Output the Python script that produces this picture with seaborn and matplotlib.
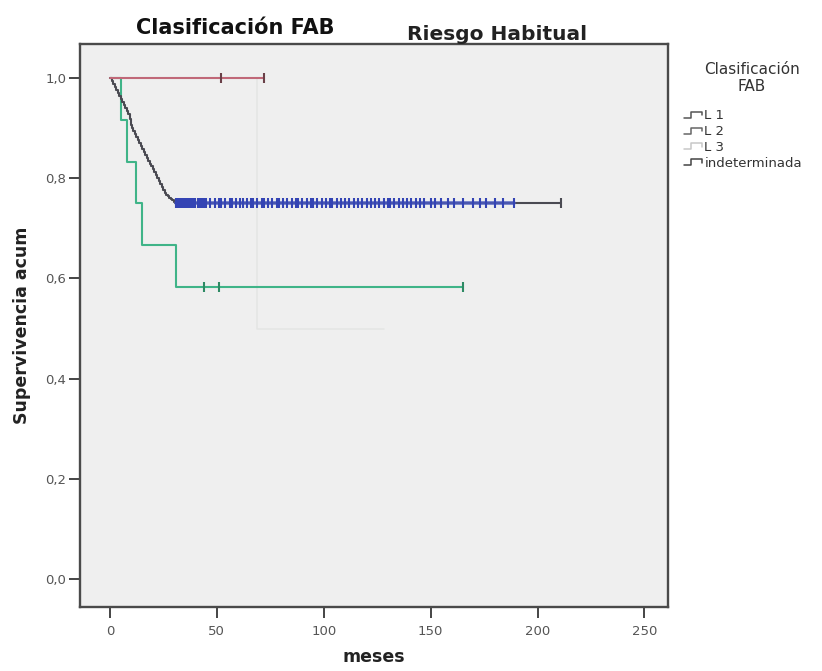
import matplotlib
matplotlib.use("Agg")
import matplotlib.pyplot as plt
from matplotlib.legend_handler import HandlerBase
from matplotlib.lines import Line2D
import seaborn as sns
import pandas as pd

# Kaplan-Meier step curves (time in months, cumulative survival)
l1_time = [0, 0.8, 1.5, 2.3, 3.0, 3.7, 4.4, 5.1, 5.8, 6.5, 7.2, 7.9, 8.5, 9.2,
           9.8, 10.4, 11.0, 11.7, 12.4, 13.1, 13.8, 14.5, 15.2, 15.9, 16.6,
           17.3, 18.0, 18.7, 19.4, 20.1, 20.8, 21.5, 22.2, 22.9, 23.6, 24.3,
           25.0, 25.7, 26.4, 27.1, 27.8, 28.5, 29.2, 29.9, 30.6, 211]
l1_surv = [1.0, 0.994, 0.988, 0.982, 0.976, 0.97, 0.965, 0.959, 0.953, 0.947,
           0.941, 0.935, 0.929, 0.918, 0.906, 0.9, 0.894, 0.888, 0.882, 0.876,
           0.871, 0.865, 0.859, 0.853, 0.847, 0.841, 0.835, 0.829, 0.824,
           0.818, 0.812, 0.806, 0.8, 0.794, 0.788, 0.782, 0.776, 0.771, 0.767,
           0.764, 0.761, 0.758, 0.756, 0.753, 0.75, 0.75]
l1_cens = [31, 31.5, 32, 32.5, 33, 33.5, 34, 34.5, 35, 35.5, 36, 36.5, 37, 37.5,
           38, 38.5, 39, 39.5, 40, 41, 42, 43, 44, 45, 47, 49, 51, 52, 54, 56,
           57, 59, 61, 62, 64, 66, 67, 69, 71, 72, 74, 76, 78, 79, 81, 83, 85,
           87, 88, 90, 92, 94, 95, 97, 99, 101, 103, 104, 106, 108, 110, 112,
           114, 116, 118, 120, 122, 124, 126, 128, 130, 131, 133, 135, 137,
           139, 141, 143, 145, 147, 150, 152, 155, 158, 161, 165, 170, 173,
           176, 180, 184, 189]
l1_cens_last = [211]

l2_time = [0, 5, 8, 12, 15, 31, 165]
l2_surv = [1.0, 0.917, 0.833, 0.75, 0.667, 0.583, 0.583]
l2_cens = [44, 51, 165]

l3_time = [0, 69, 128]
l3_surv = [1.0, 0.5, 0.5]

ind_time = [0, 72]
ind_surv = [1.0, 1.0]
ind_cens = [52, 72]

labels = ["L 1", "L 2", "L 3", "indeterminada"]
colors = {"L 1": "#4a4a52", "L 2": "#3fb488", "L 3": "#e4e5e4",
          "indeterminada": "#c06878"}
cens_colors = {"L 1": "#3444b4", "L 2": "#2e8a64", "indeterminada": "#6a4048"}

sns.set_theme(style="white")
plt.rcParams["font.family"] = ["DejaVu Sans"]

fig = plt.figure(figsize=(8.22, 6.71), dpi=100)
ax = fig.add_axes([80 / 822, 1 - 607 / 671, (668 - 80) / 822, (607 - 44) / 671])
ax.set_facecolor("#efefef")


def step_frame(t, s):
    return pd.DataFrame({"t": t, "s": s})


def surv_at(times, tt, ss):
    out = []
    for c in times:
        v = ss[0]
        for a, b in zip(tt, ss):
            if a <= c:
                v = b
        out.append(v)
    return out


curves = [("L 3", l3_time, l3_surv), ("L 2", l2_time, l2_surv),
          ("L 1", l1_time, l1_surv), ("indeterminada", ind_time, ind_surv)]
for name, tt, ss in curves:
    sns.lineplot(data=step_frame(tt, ss), x="t", y="s", ax=ax, estimator=None,
                 sort=False, drawstyle="steps-post", color=colors[name],
                 linewidth=1.5 if name != "L 3" else 1.1)

# the censored stretch of L 1 reads as a blue band
l1_band = [31, 189]
sns.lineplot(x=l1_band, y=surv_at(l1_band, l1_time, l1_surv), ax=ax,
             color="#4a5ac0", linewidth=2.6, alpha=0.85)

# censored observations
cens_sets = [("L 2", l2_cens, l2_time, l2_surv),
             ("L 1", l1_cens, l1_time, l1_surv),
             ("indeterminada", ind_cens, ind_time, ind_surv)]
for name, cc, tt, ss in cens_sets:
    sns.scatterplot(x=cc, y=surv_at(cc, tt, ss), ax=ax, marker="|",
                    s=45 if name == "L 1" else 55,
                    linewidth=1.5, color=cens_colors[name], zorder=5)
sns.scatterplot(x=l1_cens_last, y=surv_at(l1_cens_last, l1_time, l1_surv), ax=ax,
                marker="|", s=50, linewidth=1.5, color="#4a4a52", zorder=5)

ax.set_xlim(-14, 261)
ax.set_ylim(-0.056, 1.068)
ax.set_xticks([0, 50, 100, 150, 200, 250])
ax.set_yticks([0.0, 0.2, 0.4, 0.6, 0.8, 1.0])
ax.set_yticklabels(["0,0", "0,2", "0,4", "0,6", "0,8", "1,0"])
ax.tick_params(axis="both", direction="out", length=8, width=1.4,
               color="#444444", labelcolor="#555555", labelsize=9.5, pad=2,
               bottom=True, left=True)
ax.tick_params(axis="x", pad=5)
for sp in ax.spines.values():
    sp.set_color("#4a4a4a")
    sp.set_linewidth(1.7)

ax.set_xlabel("meses", fontsize=12.5, fontweight="bold", color="#222222",
              labelpad=7)
ax.set_ylabel("Supervivencia acum", fontsize=12.5, fontweight="bold",
              color="#222222", labelpad=10)

fig.text(235 / 822, 1 - 28 / 671, "Clasificación FAB", ha="center", va="center",
         fontsize=15, fontweight="bold", color="#111111")
fig.text(497 / 822, 1 - 34 / 671, "Riesgo Habitual", ha="center", va="center",
         fontsize=14.5, fontweight="bold", color="#222222")


class StepHandler(HandlerBase):
    def create_artists(self, legend, orig_handle, xdescent, ydescent, width,
                       height, fontsize, trans):
        x0, w, h = -xdescent, width, height
        xs = [x0, x0 + 0.4 * w, x0 + 0.4 * w, x0 + w, x0 + w]
        ys = [0.15 * h, 0.15 * h, 0.8 * h, 0.8 * h, 0.45 * h]
        line = Line2D(xs, ys, color=orig_handle.get_color(), linewidth=1.1)
        line.set_transform(trans)
        return [line]


fig.text(752 / 822, 1 - 78 / 671, "Clasificación\nFAB", ha="center",
         va="center", multialignment="center", fontsize=11, color="#333333",
         linespacing=1.1)

leg_colors = {"L 1": "#555555", "L 2": "#666666", "L 3": "#c8c8c8",
              "indeterminada": "#444444"}
handles = [Line2D([], [], color=leg_colors[n]) for n in labels]
leg = fig.legend(handles, labels, loc="upper left",
                 bbox_to_anchor=(684 / 822, 1 - 109 / 671),
                 frameon=False, fontsize=9.5,
                 handlelength=1.4, handletextpad=0.15, labelspacing=0.22,
                 borderaxespad=0, borderpad=0,
                 handler_map={Line2D: StepHandler()})
for t in leg.get_texts():
    t.set_color("#333333")

fig.savefig("out.png", dpi=100, facecolor="white")
